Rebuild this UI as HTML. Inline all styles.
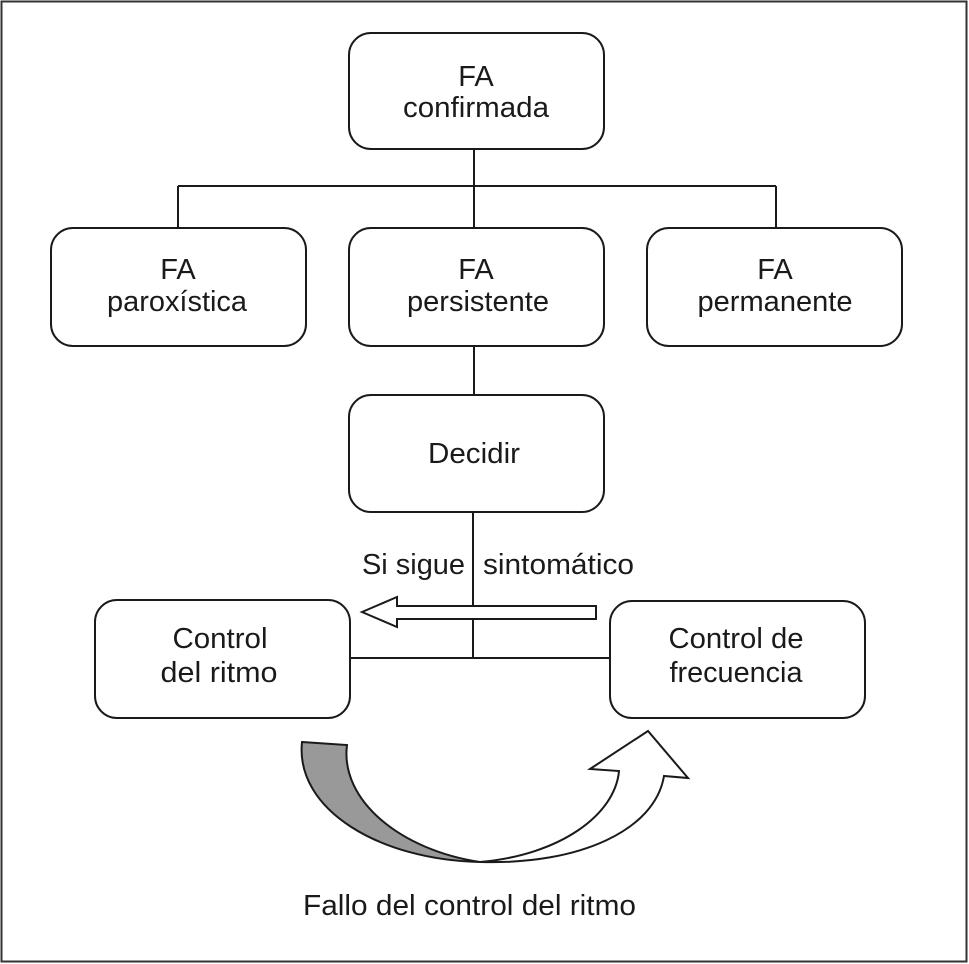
<!DOCTYPE html>
<html><head><meta charset="utf-8"><style>
html,body{margin:0;padding:0;background:#fff}
svg{display:block}
text{font-family:"Liberation Sans",sans-serif;font-size:29px;fill:#1a1a1a}
</style></head><body>
<svg width="969" height="964" viewBox="0 0 969 964" xmlns="http://www.w3.org/2000/svg">
<rect x="1.5" y="1.5" width="965" height="960" fill="#fff" stroke="#333" stroke-width="2"/>
<g fill="#fff" stroke="#1a1a1a" stroke-width="2">
<line x1="474" y1="149" x2="474" y2="186"/>
<line x1="178" y1="186" x2="776" y2="186"/>
<line x1="178" y1="186" x2="178" y2="228"/>
<line x1="474" y1="186" x2="474" y2="228"/>
<line x1="776" y1="186" x2="776" y2="228"/>
<line x1="474" y1="346" x2="474" y2="395"/>
<line x1="473" y1="512" x2="473" y2="658"/>
<line x1="350" y1="658" x2="610" y2="658"/>
<rect x="349" y="33" width="255" height="116" rx="22"/>
<rect x="51" y="228" width="255" height="118" rx="22"/>
<rect x="349" y="228" width="255" height="118" rx="22"/>
<rect x="647" y="228" width="255" height="118" rx="22"/>
<rect x="349" y="395" width="255" height="117" rx="22"/>
<rect x="95" y="600" width="255" height="118" rx="22"/>
<rect x="610" y="601" width="255" height="117" rx="22"/>
<polygon points="362,612 397,597 397,606 596,606 596,619 397,619 397,627" fill="#fff"/>
<path d="M302,742 L347,745 C340,800 400,850 480,862 C380,860 295,810 302,742 Z" fill="#999"/>
<path d="M480,862 C560,855 615,815 619,771 L590,769 L648,731 L688,778 L664,776 C655,830 580,865 480,862 Z" fill="#fff"/>
</g>
<g text-anchor="middle">
<text x="476" y="86">FA</text>
<text x="476" y="117" textLength="146" lengthAdjust="spacingAndGlyphs">confirmada</text>
<text x="178" y="279">FA</text>
<text x="177" y="311" textLength="140" lengthAdjust="spacingAndGlyphs">paroxística</text>
<text x="476" y="279">FA</text>
<text x="478" y="311" textLength="142" lengthAdjust="spacingAndGlyphs">persistente</text>
<text x="775" y="279">FA</text>
<text x="775" y="311" textLength="155" lengthAdjust="spacingAndGlyphs">permanente</text>
<text x="474" y="463" textLength="92" lengthAdjust="spacingAndGlyphs">Decidir</text>
<text x="220" y="648" textLength="95" lengthAdjust="spacingAndGlyphs">Control</text>
<text x="219" y="682" textLength="117" lengthAdjust="spacingAndGlyphs">del ritmo</text>
<text x="736" y="648" textLength="135" lengthAdjust="spacingAndGlyphs">Control de</text>
<text x="736" y="682" textLength="133" lengthAdjust="spacingAndGlyphs">frecuencia</text>
</g>
<text x="362" y="574" textLength="103" lengthAdjust="spacingAndGlyphs">Si sigue</text>
<text x="483" y="574" textLength="151" lengthAdjust="spacingAndGlyphs">sintomático</text>
<text x="303" y="915" textLength="333" lengthAdjust="spacingAndGlyphs">Fallo del control del ritmo</text>
</svg>
</body></html>
